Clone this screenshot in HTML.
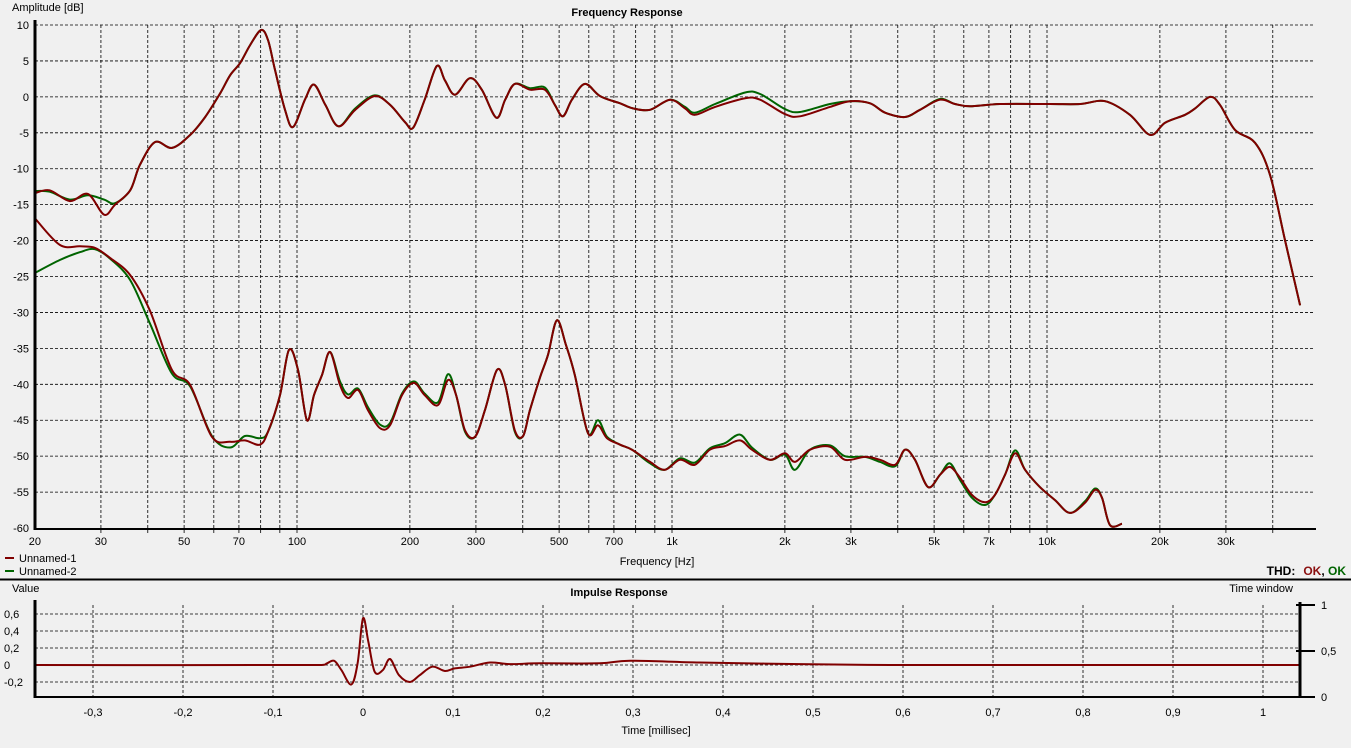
<!DOCTYPE html>
<html><head><meta charset="utf-8">
<style>
html,body{margin:0;padding:0;background:#f0f0f0;}
svg{display:block;font-family:"Liberation Sans",sans-serif;}
</style></head>
<body>
<svg id="chart" width="1351" height="748" viewBox="0 0 1351 748" xmlns="http://www.w3.org/2000/svg">
<defs>
<clipPath id="fr-clip"><rect x="35" y="20" width="1280" height="509"/></clipPath>
<clipPath id="ir-clip"><rect x="35" y="600" width="1265" height="97"/></clipPath>
</defs>
<rect width="1351" height="748" fill="#f0f0f0"/>
<g id="fr-grid"></g>
<g id="fr-traces" clip-path="url(#fr-clip)"></g>
<g id="fr-axes"></g>
<g id="ir-grid"></g>
<g id="ir-traces" clip-path="url(#ir-clip)"></g>
<g id="ir-axes"></g>

<text x="627" y="16" font-size="11" font-weight="bold" text-anchor="middle">Frequency Response</text>
<text x="12" y="11" font-size="11">Amplitude [dB]</text>
<text x="657" y="565" font-size="11" text-anchor="middle">Frequency [Hz]</text>
<g>
<line x1="5" y1="558" x2="14" y2="558" stroke="#800000" stroke-width="2"/>
<text x="19" y="562" font-size="11">Unnamed-1</text>
<line x1="5" y1="571" x2="14" y2="571" stroke="#006400" stroke-width="2"/>
<text x="19" y="575" font-size="11">Unnamed-2</text>
</g>
<text x="1346" y="575" font-size="12" font-weight="bold" text-anchor="end"><tspan fill="#000">THD:</tspan><tspan fill="#8b1010" dx="8">OK</tspan><tspan fill="#000">, </tspan><tspan fill="#006400">OK</tspan></text>
<line x1="0" y1="579.5" x2="1351" y2="579.5" stroke="#000" stroke-width="2"/>
<text x="619" y="596" font-size="11" font-weight="bold" text-anchor="middle">Impulse Response</text>
<text x="12" y="592" font-size="11">Value</text>
<text x="1293" y="592" font-size="11" text-anchor="end">Time window</text>
<text x="656" y="734" font-size="11" text-anchor="middle">Time [millisec]</text>
</svg>
<script>
// ---------- Frequency response data ----------
const frTopFreq = [20,21.9,24.8,27.7,30.6,32.7,35.9,38.1,41.8,46.4,51.9,56.9,62.4,66.3,70.5,75,80.2,83.7,87.4,92.9,97.6,105,111,119,129,143,161,177,194,204,219,236,248,264,289,311,340,359,381,418,458,487,512,541,586,643,727,787,874,988,1083,1151,1303,1567,1718,2001,2194,2638,2983,3375,3700,4181,4584,5184,5684,6234,7499,10190,12250,14290,16640,18830,20650,23350,24830,27220,28920,31720,35890,39360,43150,47320];
const frTop1 = [-13.4,-13.0,-14.5,-13.5,-16.4,-15.0,-13.0,-9.5,-6.3,-7.1,-5.3,-2.8,0.5,3.0,4.7,7.2,9.3,7.9,3.7,-1.8,-4.2,-0.4,1.7,-1.1,-4.1,-1.8,0.1,-1.1,-3.5,-4.3,-0.4,4.3,2.3,0.3,2.6,1.0,-2.9,-0.4,1.8,1.0,1.0,-1.1,-2.7,-0.4,1.8,0.1,-0.9,-1.6,-1.8,-0.4,-1.6,-2.5,-1.4,-0.2,-0.4,-2.4,-2.7,-1.4,-0.6,-0.9,-2.2,-2.8,-1.8,-0.4,-1.0,-1.3,-1.0,-1.0,-1.0,-0.6,-2.5,-5.3,-3.6,-2.5,-1.6,0.0,-1.1,-4.6,-6.4,-10.9,-20.0,-29.0];
const frTop2 = [-13.1,-13.2,-14.3,-13.7,-14.3,-14.8,-13.0,-9.5,-6.3,-7.1,-5.3,-2.8,0.5,3.0,4.7,7.2,9.3,7.9,3.7,-1.8,-4.2,-0.4,1.7,-1.1,-4.1,-1.6,0.2,-1.1,-3.5,-4.3,-0.4,4.3,2.3,0.3,2.6,1.0,-2.9,-0.4,1.8,1.2,1.3,-1.1,-2.7,-0.4,1.8,0.1,-0.9,-1.6,-1.8,-0.4,-1.4,-2.2,-1.0,0.6,0.4,-1.7,-2.1,-1.0,-0.6,-0.9,-2.2,-2.8,-1.8,-0.3,-1.0,-1.3,-1.0,-1.0,-1.0,-0.6,-2.5,-5.3,-3.6,-2.5,-1.6,0.0,-1.1,-4.6,-6.4,-10.9,-20.0,-29.0];

const frBotFreq = [20,23.3,26.4,28.9,31.7,35.9,40.5,46.4,51.9,59.3,66.3,72.6,79.6,83.7,90.1,95.2,100.6,106.3,111,116.6,122.5,130.2,136.8,145.5,154.6,166.4,177,190.6,205,219,237.7,252.8,265.6,280.6,298.4,317.1,341.4,359,381,400.7,418,444.4,466.9,493.2,521.2,550.7,596.9,635,671,727,782,874,957,1050,1151,1262,1384,1517,1633,1823,2001,2128,2333,2638,2891,3273,3589,3936,4181,4446,4818,5184,5505,5860,6310,6839,7262,7727,8222,8740,9575,10500,11510,12620,13430,14020,14720,15850];
const frBot1 = [-16.9,-20.6,-20.8,-21.0,-22.4,-24.8,-29.7,-38.0,-40.1,-47.3,-48.0,-47.8,-48.4,-46.6,-41.5,-35.2,-38.0,-45.0,-41.5,-38.7,-35.5,-40.1,-41.9,-40.8,-43.6,-46.1,-45.7,-41.5,-39.8,-41.5,-42.9,-39.4,-41.5,-46.4,-47.3,-43.6,-38.0,-40.1,-46.4,-47.2,-43.6,-39.1,-35.9,-31.1,-34.5,-38.7,-46.8,-45.7,-47.5,-48.4,-49.1,-50.8,-51.9,-50.5,-51.2,-49.1,-48.6,-47.8,-49.1,-50.5,-49.6,-50.8,-49.1,-48.7,-50.5,-50.1,-50.5,-51.2,-49.1,-50.5,-54.3,-52.6,-51.5,-53.0,-55.4,-56.4,-55.4,-52.6,-49.6,-51.9,-54.3,-56.1,-57.9,-56.5,-54.7,-55.8,-59.6,-59.4];
const frBot2 = [-24.5,-22.7,-21.6,-21.2,-22.5,-25.5,-31.5,-38.5,-40.3,-47.2,-48.8,-47.2,-47.5,-46.6,-41.5,-35.2,-38.0,-45.0,-41.5,-38.7,-35.5,-39.6,-41.4,-40.6,-43.2,-45.6,-45.4,-41.3,-39.6,-41.3,-42.5,-38.6,-41.5,-46.6,-47.3,-43.6,-38.0,-40.1,-46.6,-47.2,-43.6,-39.1,-35.9,-31.1,-34.5,-38.7,-46.8,-45.0,-47.3,-48.4,-49.1,-51.0,-51.9,-50.3,-50.9,-48.9,-48.2,-47.0,-48.8,-50.5,-49.8,-51.9,-49.1,-48.5,-50.0,-50.1,-50.8,-51.4,-49.1,-50.5,-54.3,-52.6,-51.0,-53.3,-55.8,-56.8,-55.4,-52.6,-49.2,-51.9,-54.3,-56.1,-57.9,-56.3,-54.5,-55.8,-59.6,-59.4];

const frGridFreqs = [30,40,50,60,70,80,90,100,200,300,400,500,600,700,800,900,1000,2000,3000,4000,5000,6000,7000,8000,9000,10000,20000,30000,40000];
const frTickFreqs = [20,30,50,70,100,200,300,500,700,1000,2000,3000,5000,7000,10000,20000,30000];
const frTickLabels = ["20","30","50","70","100","200","300","500","700","1k","2k","3k","5k","7k","10k","20k","30k"];
const dbTicks = [10,5,0,-5,-10,-15,-20,-25,-30,-35,-40,-45,-50,-55,-60];

// ---------- Impulse response data ----------
const irTime = [-0.364,-0.046,-0.040,-0.032,-0.024,-0.013,-0.006,0,0.006,0.013,0.022,0.030,0.040,0.052,0.063,0.077,0.091,0.102,0.119,0.141,0.163,0.197,0.263,0.297,0.374,0.486,0.597,0.708,0.819,1.041];
const irValue = [0,0,0.02,0.05,-0.06,-0.23,0.02,0.55,0.27,-0.08,-0.06,0.07,-0.12,-0.2,-0.12,-0.02,-0.07,-0.04,-0.02,0.03,0.01,0.02,0.02,0.05,0.03,0.01,0.0,0.0,0.0,0.0];
const irXTicks = [-0.3,-0.2,-0.1,0,0.1,0.2,0.3,0.4,0.5,0.6,0.7,0.8,0.9,1];
const irYTicks = [0.6,0.4,0.2,0,-0.2];
const twTicks = [1,0.5,0];

const NS = "http://www.w3.org/2000/svg";
function mk(tag, attrs, parent){ const e=document.createElementNS(NS,tag); for(const k in attrs) e.setAttribute(k,attrs[k]); parent.appendChild(e); return e; }

// axis functions
const fx = f => 297 + 375*(Math.log10(f)-2);
const fy = db => 25 + (10-db)*7.186;
const tx = t => 363 + 900*t;
const ty = v => 665 - 85*v;
const wy = w => 697 - 92*w;

function smoothPath(pts){
  let d = "M"+pts[0][0].toFixed(1)+","+pts[0][1].toFixed(1);
  const cl=(v,a,b)=>Math.min(Math.max(v,Math.min(a,b)),Math.max(a,b));
  for(let i=0;i<pts.length-1;i++){
    const p0=pts[Math.max(0,i-1)], p1=pts[i], p2=pts[i+1], p3=pts[Math.min(pts.length-1,i+2)];
    let c1x=p1[0]+(p2[0]-p0[0])/6, c1y=p1[1]+(p2[1]-p0[1])/6;
    let c2x=p2[0]-(p3[0]-p1[0])/6, c2y=p2[1]-(p3[1]-p1[1])/6;
    c1x=cl(c1x,p1[0],p2[0]); c2x=cl(c2x,p1[0],p2[0]);
    d+=" C"+c1x.toFixed(1)+","+c1y.toFixed(1)+" "+c2x.toFixed(1)+","+c2y.toFixed(1)+" "+p2[0].toFixed(1)+","+p2[1].toFixed(1);
  }
  return d;
}

// FR grid
const g1=document.getElementById('fr-grid');
dbTicks.forEach(v=>{
  if(v>-60){
    const l=mk('line',{x1:35,x2:1315,y1:fy(v),y2:fy(v),stroke:'#000','stroke-width':0.8,'stroke-dasharray':'3,2'},g1);
    
    
  }
  const t=mk('text',{x:29,y:fy(v)+4,'font-size':11,'text-anchor':'end'},g1);
  t.textContent=String(v);
  
  
});
frGridFreqs.forEach(f=>{
  const l=mk('line',{x1:fx(f),x2:fx(f),y1:25,y2:533,stroke:'#000','stroke-width':0.8,'stroke-dasharray':'3,2'},g1);
  
  
});
frTickFreqs.forEach((f,i)=>{
  const t=mk('text',{x:fx(f),y:545,'font-size':11,'text-anchor':'middle'},g1);
  t.textContent=frTickLabels[i];
  
  
});

// FR traces
const gt=document.getElementById('fr-traces');
const series=[
  [frTopFreq,frTop2,'#006400','trace-unnamed-2-fundamental'],
  [frBotFreq,frBot2,'#006400','trace-unnamed-2-distortion'],
  [frTopFreq,frTop1,'#800000','trace-unnamed-1-fundamental'],
  [frBotFreq,frBot1,'#800000','trace-unnamed-1-distortion']
];
series.forEach(s=>{
  const pts=s[0].map((f,i)=>[fx(f),fy(s[1][i])]);
  const p=mk('path',{d:smoothPath(pts),fill:'none',stroke:s[2],'stroke-width':2,'stroke-linejoin':'round'},gt);
  
  
});

// FR axes
const ga=document.getElementById('fr-axes');
const ya=mk('line',{x1:35,x2:35,y1:20,y2:530,stroke:'#000','stroke-width':3},ga);


const xa=mk('line',{x1:34,x2:1316,y1:529,y2:529,stroke:'#000','stroke-width':2},ga);



// IR grid
const g2=document.getElementById('ir-grid');
irYTicks.forEach(v=>{
  const l=mk('line',{x1:35,x2:1300,y1:ty(v),y2:ty(v),stroke:'#000','stroke-width':0.8,'stroke-dasharray':'3,2'},g2);
  
  
  const t=mk('text',{x:4,y:ty(v)+4,'font-size':11},g2);
  t.textContent=String(v).replace('.',',');
  
  
});
irXTicks.forEach(v=>{
  const l=mk('line',{x1:tx(v),x2:tx(v),y1:605,y2:697,stroke:'#000','stroke-width':0.8,'stroke-dasharray':'3,2'},g2);
  
  
  const t=mk('text',{x:tx(v),y:716,'font-size':11,'text-anchor':'middle'},g2);
  t.textContent=String(v).replace('.',',');
  
  
});

// IR trace
const gi=document.getElementById('ir-traces');
const ipts=irTime.map((t,i)=>[tx(t),ty(irValue[i])]);
const ip=mk('path',{d:smoothPath(ipts),fill:'none',stroke:'#800000','stroke-width':2},gi);



// IR axes
const gb=document.getElementById('ir-axes');
const iy=mk('line',{x1:35,x2:35,y1:600,y2:698,stroke:'#000','stroke-width':3},gb);


const ix=mk('line',{x1:34,x2:1315,y1:697,y2:697,stroke:'#000','stroke-width':2},gb);


const wa=mk('line',{x1:1300,x2:1300,y1:602,y2:697,stroke:'#000','stroke-width':3},gb);


twTicks.forEach(w=>{
  const l=mk('line',{x1:1296,x2:1315,y1:wy(w),y2:wy(w),stroke:'#000','stroke-width':2},gb);
  
  
  const t=mk('text',{x:1321,y:wy(w)+4,'font-size':11},gb);
  t.textContent=String(w).replace('.',',');
  
  
});
</script>
</body></html>
